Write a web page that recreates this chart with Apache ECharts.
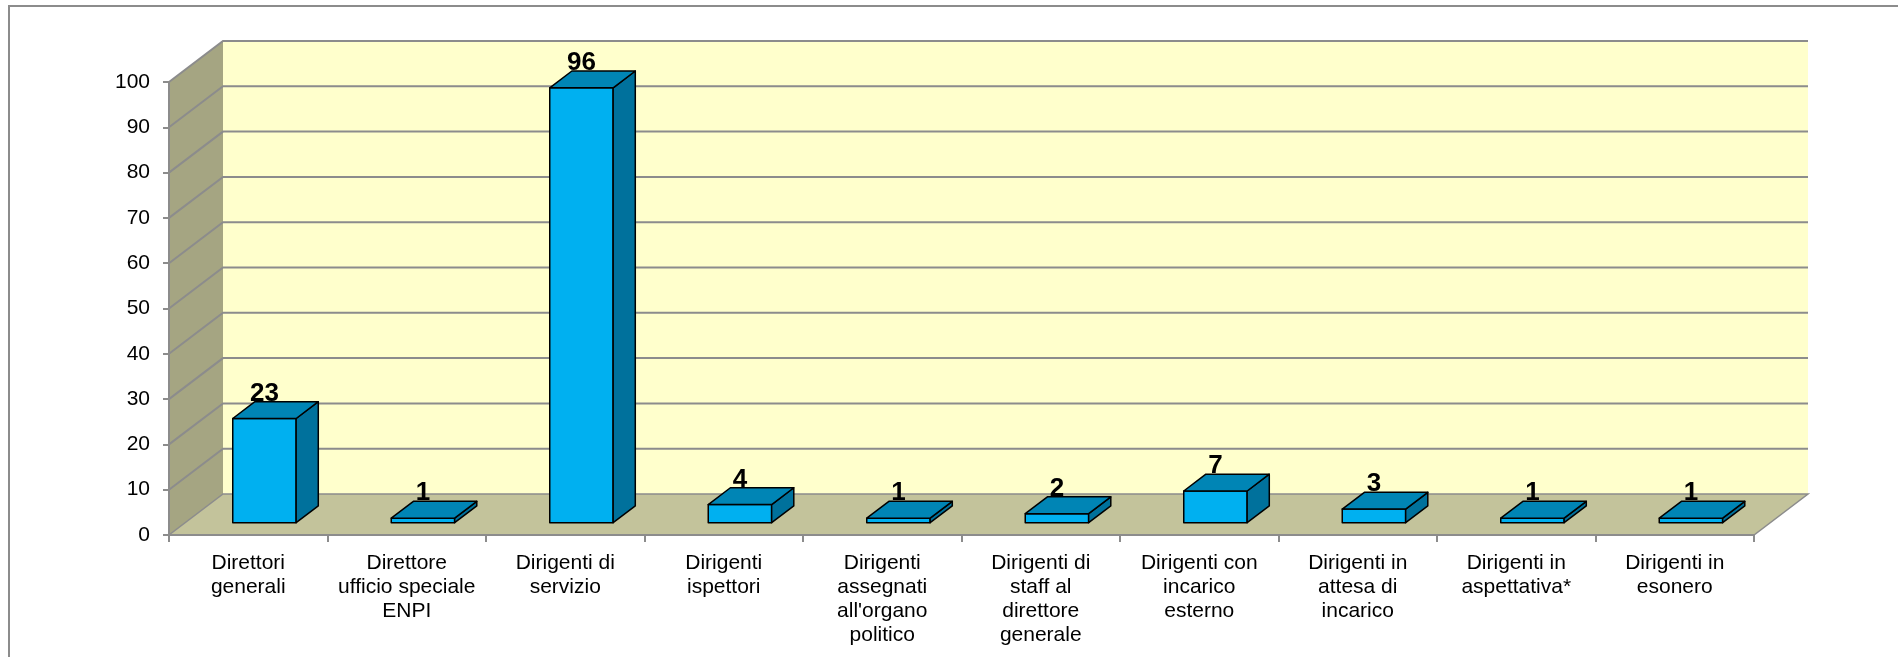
<!DOCTYPE html>
<html>
<head>
<meta charset="utf-8">
<style>
  html, body { margin: 0; padding: 0; background: #fff; }
  #chart { width: 1898px; height: 657px; }
</style>
</head>
<body>
<div id="chart"></div>
<script src="https://cdn.jsdelivr.net/npm/echarts@6/dist/echarts.min.js"></script>
<script>
const categories = [
  "Direttori\ngenerali",
  "Direttore\nufficio speciale\nENPI",
  "Dirigenti di\nservizio",
  "Dirigenti\nispettori",
  "Dirigenti\nassegnati\nall'organo\npolitico",
  "Dirigenti di\nstaff al\ndirettore\ngenerale",
  "Dirigenti con\nincarico\nesterno",
  "Dirigenti in\nattesa di\nincarico",
  "Dirigenti in\naspettativa*",
  "Dirigenti in\nesonero"
];
const values = [23, 1, 96, 4, 1, 2, 7, 3, 1, 1];
const yTicks = [0, 10, 20, 30, 40, 50, 60, 70, 80, 90, 100];

const font = "Liberation Sans";
const gridColor = "#8c8c8c";

// finta prospettiva: quanto il fondo e' spostato rispetto al piano frontale
const depthX = 54;
const depthY = -41;
// le barre stanno tra il 30% e il 71% della profondita'
const barFront = 0.3;
const barBack = 0.71;

const chart = echarts.init(document.getElementById("chart"));

// pareti e pavimento
const renderWalls = (params, api) => {
  const c = params.coordSys;
  const left = c.x;
  const right = c.x + c.width;
  const top = c.y;
  const bottom = c.y + c.height;
  return {
    type: "group",
    children: [
      {
        type: "polygon",
        shape: { points: [[left + depthX, top + depthY], [right + depthX, top + depthY], [right + depthX, bottom + depthY], [left + depthX, bottom + depthY]] },
        style: { fill: "#FFFFCC" }
      },
      {
        type: "polygon",
        shape: { points: [[left, top], [left + depthX, top + depthY], [left + depthX, bottom + depthY], [left, bottom]] },
        style: { fill: "#A5A582" }
      },
      {
        type: "polygon",
        shape: { points: [[left, bottom], [right, bottom], [right + depthX, bottom + depthY], [left + depthX, bottom + depthY]] },
        style: { fill: "#C3C39B", stroke: gridColor, lineWidth: 1.5 }
      }
    ]
  };
};

// griglia: dal tick frontale al fondo e poi lungo la parete
const renderGrid = (params, api) => {
  const c = params.coordSys;
  const y = api.coord([0, api.value(0)])[1];
  const backX = c.x + depthX;
  const backY = y + depthY;
  return {
    type: "polyline",
    shape: { points: [[c.x, y], [backX, backY], [c.x + c.width + depthX, backY]] },
    style: { fill: null, stroke: gridColor, lineWidth: 2 }
  };
};

const renderBar = (params, api) => {
  const i = api.value(0);
  const base = api.coord([i, 0]);
  const head = api.coord([i, api.value(1)]);
  const w = api.size([1, 0])[0] * 0.4;
  const x0 = base[0] - w / 2 + depthX * barFront;
  const x1 = x0 + w;
  const yb = base[1] + depthY * barFront;
  const yt = head[1] + depthY * barFront;
  const dx = depthX * (barBack - barFront);
  const dy = depthY * (barBack - barFront);
  const edge = { stroke: "#000", lineWidth: 1.5, lineJoin: "round" };
  return {
    type: "group",
    children: [
      {
        type: "polygon",
        shape: { points: [[x0, yb], [x1, yb], [x1, yt], [x0, yt]] },
        style: { fill: "#00B0F0", ...edge }
      },
      {
        type: "polygon",
        shape: { points: [[x1, yb], [x1 + dx, yb + dy], [x1 + dx, yt + dy], [x1, yt]] },
        style: { fill: "#00719C", ...edge }
      },
      {
        type: "polygon",
        shape: { points: [[x0, yt], [x1, yt], [x1 + dx, yt + dy], [x0 + dx, yt + dy]] },
        style: { fill: "#0085B5", ...edge }
      },
      {
        type: "text",
        z2: 10,
        style: {
          text: String(api.value(1)),
          x: (x0 + x1) / 2,
          y: yt - 25,
          align: "center",
          verticalAlign: "middle",
          font: "bold 26px '" + font + "'",
          fill: "#000"
        }
      }
    ]
  };
};

const option = {
  animation: false,
  backgroundColor: "#fff",
  graphic: [
    {
      type: "polyline",
      shape: { points: [[9, 700], [9, 6], [1950, 6]] },
      style: { fill: null, stroke: gridColor, lineWidth: 2 }
    }
  ],
  grid: { left: 169, top: 82, width: 1585, height: 453 },
  xAxis: {
    type: "category",
    data: categories,
    z: 5,
    axisLine: { lineStyle: { color: gridColor, width: 2 } },
    axisTick: { show: true, length: 7, lineStyle: { color: gridColor, width: 2 } },
    axisLabel: {
      interval: 0,
      margin: 16,
      color: "#000",
      fontFamily: font,
      fontSize: 21,
      lineHeight: 24
    }
  },
  yAxis: {
    type: "value",
    min: yTicks[0],
    max: yTicks[yTicks.length - 1],
    interval: 10,
    z: 5,
    splitLine: { show: false },
    axisLine: { show: true, lineStyle: { color: gridColor, width: 2 } },
    axisTick: { show: true, length: 6, lineStyle: { color: gridColor, width: 2 } },
    axisLabel: { margin: 19, color: "#000", fontFamily: font, fontSize: 21 }
  },
  series: [
    { type: "custom", z: 1, silent: true, renderItem: renderWalls, data: [[0]] },
    {
      type: "custom",
      z: 2,
      silent: true,
      renderItem: renderGrid,
      encode: { y: 0 },
      data: yTicks.slice(1).map(t => [t])
    },
    {
      type: "custom",
      z: 3,
      renderItem: renderBar,
      encode: { x: 0, y: 1 },
      data: values.map((v, i) => [i, v])
    }
  ]
};

chart.setOption(option);
</script>
</body>
</html>
